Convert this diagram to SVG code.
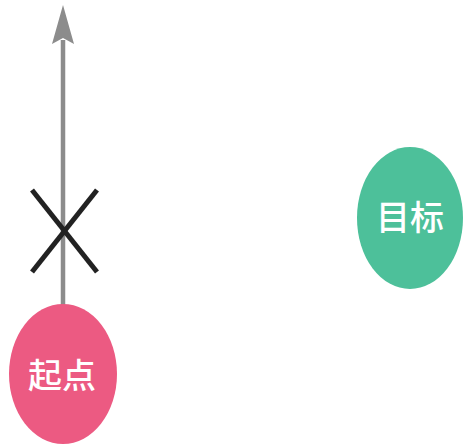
<svg xmlns="http://www.w3.org/2000/svg" width="468" height="447" viewBox="0 0 468 447">
<style>
.lbl{font-family:"Noto Sans CJK SC","Noto Sans",sans-serif;font-size:34px;font-weight:500;fill:#ffffff;text-anchor:middle;dominant-baseline:central}
</style>
<rect width="468" height="447" fill="#ffffff"/>
<g id="connectors">
<line x1="63" y1="306" x2="63" y2="40" stroke="#8c8c8c" stroke-width="4.5"/>
<polygon points="63,5 74,44 63,38 52,44" fill="#8c8c8c"/>
<g id="cross" stroke="#222222" stroke-width="5" stroke-linecap="butt">
<line x1="32" y1="190" x2="97" y2="272"/>
<line x1="97" y1="190" x2="32" y2="272"/>
</g>
</g>
<g id="start">
<ellipse cx="63" cy="374" rx="54" ry="70" fill="#ec5a82"/>
<text class="lbl" x="62" y="373">起点</text>
</g>
<g id="target">
<ellipse cx="410" cy="218" rx="53" ry="71" fill="#4dc09a"/>
<text class="lbl" x="410" y="215">目标</text>
</g>
</svg>
